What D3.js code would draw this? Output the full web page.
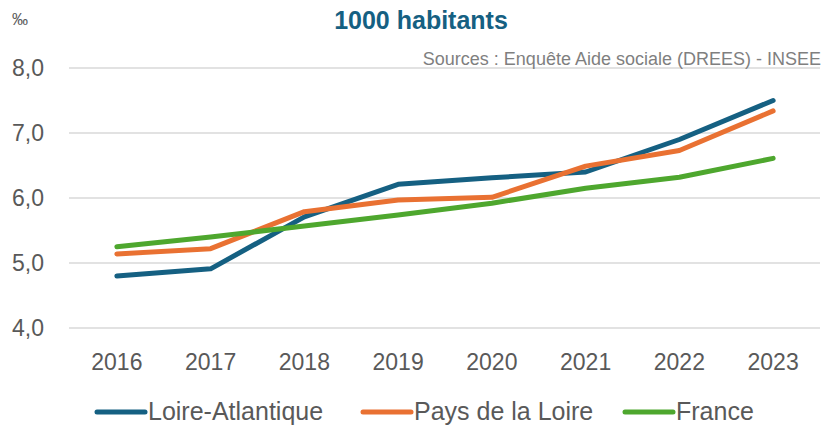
<!DOCTYPE html>
<html>
<head>
<meta charset="utf-8">
<script src="https://cdn.jsdelivr.net/npm/d3@7"></script>
<style>
  body { margin: 0; background: #fff; }
  svg { display: block; font-family: "Liberation Sans", Arial, sans-serif; }
</style>
</head>
<body>
<svg id="chart" width="827" height="425"></svg>
<script>
// data
var years = ["2016", "2017", "2018", "2019", "2020", "2021", "2022", "2023"];
var loireAtlantique = [4.80, 4.91, 5.71, 6.21, 6.31, 6.40, 6.90, 7.50];
var paysDeLaLoire   = [5.14, 5.22, 5.79, 5.97, 6.01, 6.49, 6.73, 7.34];
var france          = [5.25, 5.40, 5.57, 5.74, 5.92, 6.15, 6.32, 6.61];
var yTicks = [4, 5, 6, 7, 8];

var series = [
  {name: "Loire-Atlantique", values: loireAtlantique, color: "#156082"},
  {name: "Pays de la Loire", values: paysDeLaLoire, color: "#E97132"},
  {name: "France", values: france, color: "#4EA72E"}
];

var svg = d3.select("#chart");

var x = d3.scaleBand().domain(years).range([70, 820]);
var y = d3.scaleLinear().domain([4, 8]).range([328, 68]);

var textGray = "#595959";
var fmt = function(d) { return d3.format(".1f")(d).replace(".", ","); };

// gridlines
svg.append("g").selectAll("line").data(yTicks).enter().append("line")
  .attr("x1", 69).attr("x2", 820)
  .attr("y1", function(d) { return y(d); })
  .attr("y2", function(d) { return y(d); })
  .attr("stroke", "#d9d9d9")
  .attr("stroke-width", 1.3);

// y labels
svg.append("g").selectAll("text").data(yTicks).enter().append("text")
  .attr("x", 44)
  .attr("y", function(d) { return y(d) + 8; })
  .attr("text-anchor", "end")
  .attr("fill", textGray)
  .style("font-size", "23px")
  .text(fmt);

// x labels
svg.append("g").selectAll("text").data(years).enter().append("text")
  .attr("x", function(d) { return x(d) + x.bandwidth() / 2; })
  .attr("y", 370)
  .attr("text-anchor", "middle")
  .attr("fill", textGray)
  .style("font-size", "23px")
  .text(function(d) { return d; });

// lines
var line = d3.line()
  .x(function(d, i) { return x(years[i]) + x.bandwidth() / 2; })
  .y(function(d) { return y(d); });

svg.append("g").selectAll("path").data(series).enter().append("path")
  .attr("d", function(d) { return line(d.values); })
  .attr("fill", "none")
  .attr("stroke", function(d) { return d.color; })
  .attr("stroke-width", 5)
  .attr("stroke-linecap", "round")
  .attr("stroke-linejoin", "round");

// title, unit, source
svg.append("text")
  .attr("x", 421).attr("y", 29)
  .attr("text-anchor", "middle")
  .attr("fill", "#156082")
  .style("font-size", "25px")
  .style("font-weight", "bold")
  .text("1000 habitants");

svg.append("text")
  .attr("x", 12).attr("y", 25)
  .attr("fill", textGray)
  .style("font-size", "16px")
  .text("‰");

svg.append("text")
  .attr("x", 821).attr("y", 65)
  .attr("text-anchor", "end")
  .attr("fill", "#7f7f7f")
  .style("font-size", "18px")
  .text("Sources : Enquête Aide sociale (DREES) - INSEE");

// legend
var legendX = [97, 363, 625];
var lg = svg.append("g").selectAll("g").data(series).enter().append("g")
  .attr("transform", function(d, i) { return "translate(" + legendX[i] + ",412)"; });
lg.append("line")
  .attr("x1", 0).attr("x2", 48)
  .attr("stroke", function(d) { return d.color; })
  .attr("stroke-width", 5)
  .attr("stroke-linecap", "round");
lg.append("text")
  .attr("x", 51).attr("y", 8)
  .attr("fill", textGray)
  .style("font-size", "25px")
  .text(function(d) { return d.name; });
</script>
</body>
</html>
